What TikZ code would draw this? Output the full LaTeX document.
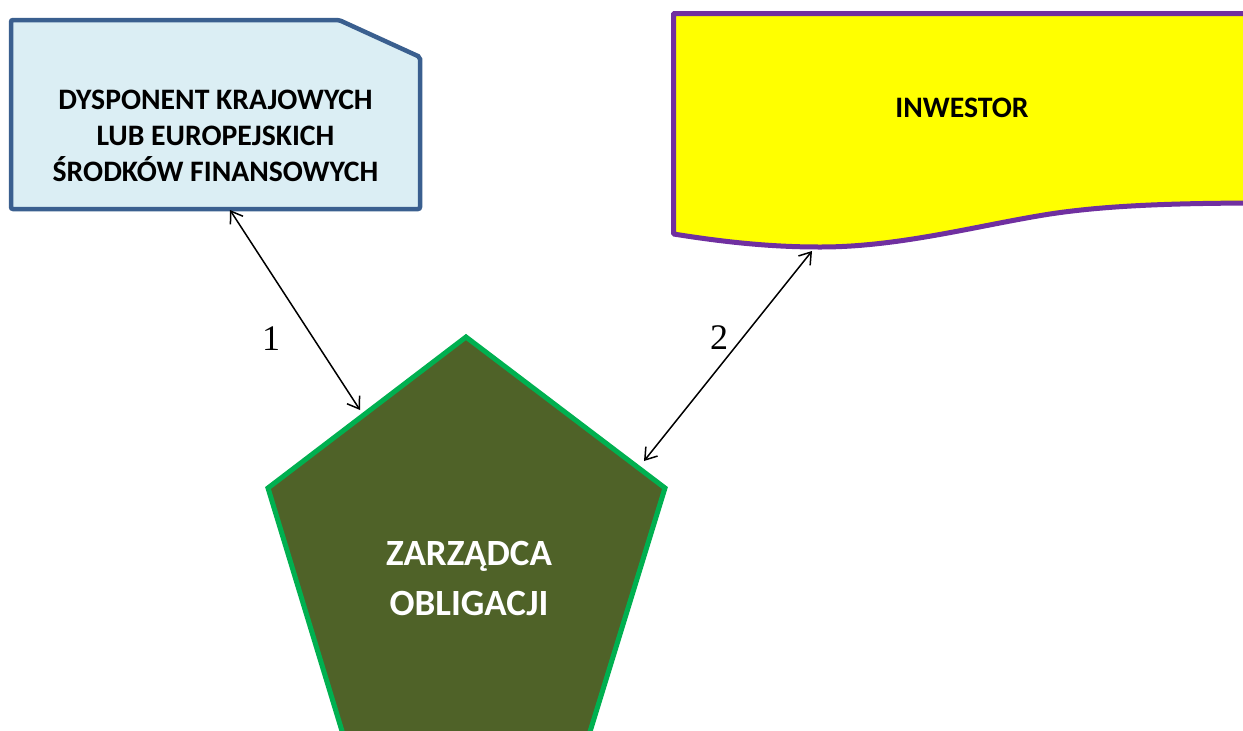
\documentclass[tikz,border=0pt]{standalone}
\usepackage{fontspec}
\setmainfont{Carlito}
\newfontfamily\tnr{Liberation Serif}
\usetikzlibrary{arrows.meta}
\definecolor{boxblue}{HTML}{DBEEF4}
\definecolor{borderblue}{HTML}{3A5F8F}
\definecolor{invyellow}{HTML}{FFFF00}
\definecolor{invpurple}{HTML}{7030A0}
\definecolor{olive}{HTML}{4F6228}
\definecolor{brightgreen}{HTML}{00B050}
\tikzset{
  lbl/.style={inner sep=0pt, anchor=base, font=\bfseries\fontsize{29.7}{34}\selectfont},
  pentlbl/.style={inner sep=0pt, anchor=base, text=white, font=\bfseries\fontsize{37}{42}\selectfont},
  numlbl/.style={inner sep=0pt, font=\tnr\fontsize{36}{40}\selectfont},
  link/.style={line width=1.5pt, {Straight Barb[length=11pt,width=15pt]}-{Straight Barb[length=11pt,width=15pt]}}
}
\begin{document}
\begin{tikzpicture}[x=1pt,y=-1pt]
\useasboundingbox (0,0) rectangle (1243,731);
\begin{scope}
\clip (0,0) rectangle (1243,731);
% snipped box
\draw[line width=4.5pt, draw=borderblue, fill=boxblue, rounded corners=2pt]
  (11,20) -- (339,20) -- (420,57) -- (420,209) -- (11,209) -- cycle;
% wave document
\draw[line width=5pt, draw=invpurple, fill=invyellow, rounded corners=1pt]
  (673.5,234) -- (673.5,13.5) -- (1270,13.5) -- (1270,203)
  .. controls (1180,203) and (1110,205) .. (1050,214)
  .. controls (980,225) and (900,247) .. (820,247)
  .. controls (775,247) and (730,243) .. (673.5,234) -- cycle;
% pentagon
\draw[line width=5pt, draw=brightgreen, fill=olive, line join=miter]
  (466,337) -- (665,488) -- (569,800) -- (363,800) -- (268,488) -- cycle;
\end{scope}
\node[lbl] (d1) at (215.5,109) {DYSPONENT KRAJOWYCH};
\node[lbl] (d2) at (215.5,145) {LUB EUROPEJSKICH};
\node[lbl] (d3) at (215.5,181) {ŚRODKÓW FINANSOWYCH};
\node[lbl] (inv) at (962,117) {INWESTOR};
\node[pentlbl] (z1) at (469,565) {ZARZĄDCA};
\node[pentlbl] (z2) at (469,615) {OBLIGACJI};
\coordinate (a1s) at (230,210);
\coordinate (a1e) at (360,410);
\coordinate (a2s) at (812,251);
\coordinate (a2e) at (644,461);
\draw[link] (a1s) -- (a1e);
\draw[link] (a2s) -- (a2e);
\node[numlbl] (n1) at (271,339) {1};
\node[numlbl] (n2) at (719,338) {2};
\end{tikzpicture}
\end{document}
